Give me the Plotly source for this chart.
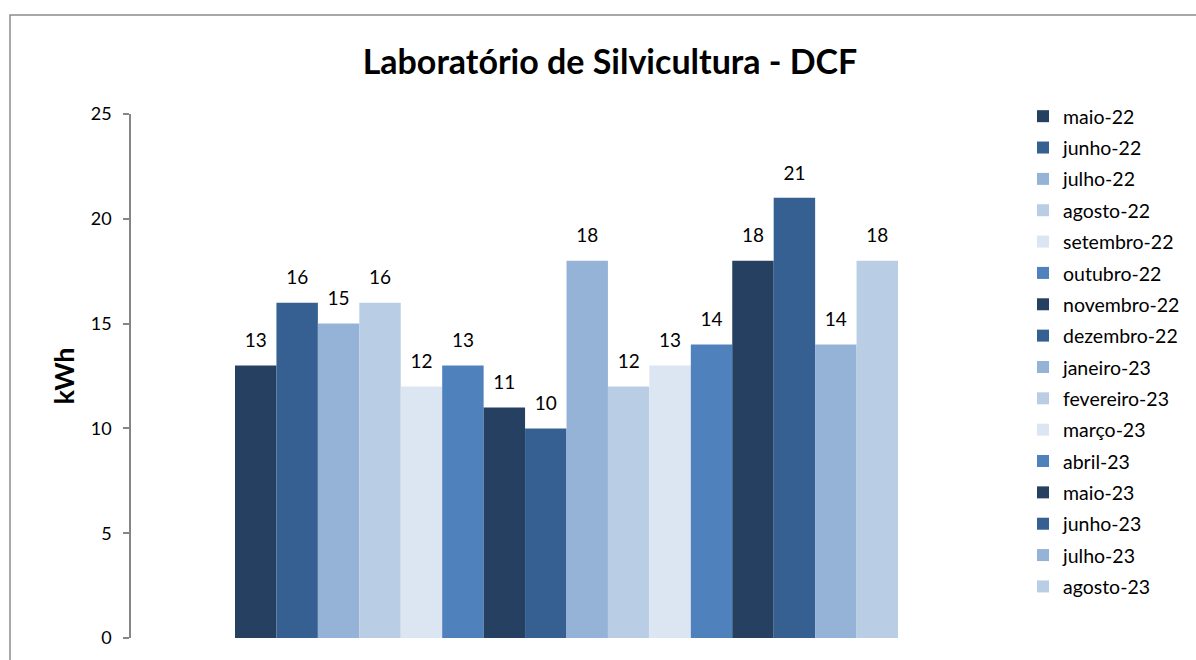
import plotly.graph_objects as go

category = ["Consumo"]
months = ["maio-22", "junho-22", "julho-22", "agosto-22", "setembro-22", "outubro-22",
          "novembro-22", "dezembro-22", "janeiro-23", "fevereiro-23", "março-23", "abril-23",
          "maio-23", "junho-23", "julho-23", "agosto-23"]
values = [13, 16, 15, 16, 12, 13, 11, 10, 18, 12, 13, 14, 18, 21, 14, 18]
palette = ["#254061", "#376092", "#95B3D7", "#B9CDE5", "#DCE6F2", "#4F81BD"]

FONT = "Lato"

fig = go.Figure()
for i, (m, v) in enumerate(zip(months, values)):
    fig.add_trace(go.Bar(
        x=category, y=[v], name=m, offsetgroup=str(i),
        marker=dict(color=palette[i % len(palette)], line=dict(width=0)),
        legendgroup=m, hoverinfo="skip",
    ))
for i, (m, v) in enumerate(zip(months, values)):
    fig.add_trace(go.Scatter(
        x=category, y=[v], offsetgroup=str(i), mode="markers+text",
        marker=dict(size=20, color="rgba(0,0,0,0)"),
        text=[str(v)], textposition="top center", cliponaxis=False,
        textfont=dict(family=FONT, size=19, color="#000000"),
        showlegend=False, legendgroup=m, hoverinfo="skip",
    ))

L, R, T, B = 131, 1002, 114, 638
W, H = 1196, 660
pw, ph = R - L, B - T
gap = 1 - 663 / pw

fig.update_layout(
    width=W, height=H,
    margin=dict(l=L, r=W - R, t=T, b=H - B, pad=0, autoexpand=False),
    paper_bgcolor="white", plot_bgcolor="white",
    barmode="group", bargap=gap, bargroupgap=0,
    scattermode="group", scattergap=gap,
    title=dict(text="<b>Laboratório de Silvicultura - DCF</b>",
               font=dict(family=FONT, size=34, color="#000000"),
               x=610 / W, xanchor="center", y=1 - 62 / H, yanchor="middle"),
    font=dict(family=FONT, color="#000000"),
    showlegend=True,
    legend=dict(x=(1023 - L) / pw, xanchor="left", y=1 + (T - 97) / ph, yanchor="top",
                traceorder="grouped", tracegroupgap=3, maxheight=620,
                font=dict(family=FONT, size=19.5, color="#000000"),
                bgcolor="rgba(0,0,0,0)", itemclick=False, itemdoubleclick=False),
    xaxis=dict(showticklabels=False, showline=False, ticks="", showgrid=False,
               zeroline=False, range=[-0.5, 0.5]),
    yaxis=dict(range=[0, 25], dtick=5, tick0=0, showgrid=False, zeroline=False,
               showline=True, linecolor="#868686", linewidth=1.5,
               ticks="outside", ticklen=6, tickcolor="#868686", tickwidth=1.5,
               ticklabelstandoff=8,
               tickfont=dict(family=FONT, size=18, color="#000000"),
               title=dict(text="<b>kWh</b>", font=dict(family=FONT, size=27, color="#000000"),
                          standoff=8)),
    shapes=[dict(type="rect", xref="paper", yref="paper",
                 x0=(10 - L) / pw, x1=(1210 - L) / pw,
                 y0=(B - 680) / ph, y1=(B - 15) / ph,
                 line=dict(color="#8C8C8C", width=1.5), fillcolor="rgba(0,0,0,0)",
                 layer="below")],
)

fig.write_html("out.html", config={"displayModeBar": False},
               post_script="document.body.style.margin='0';")
